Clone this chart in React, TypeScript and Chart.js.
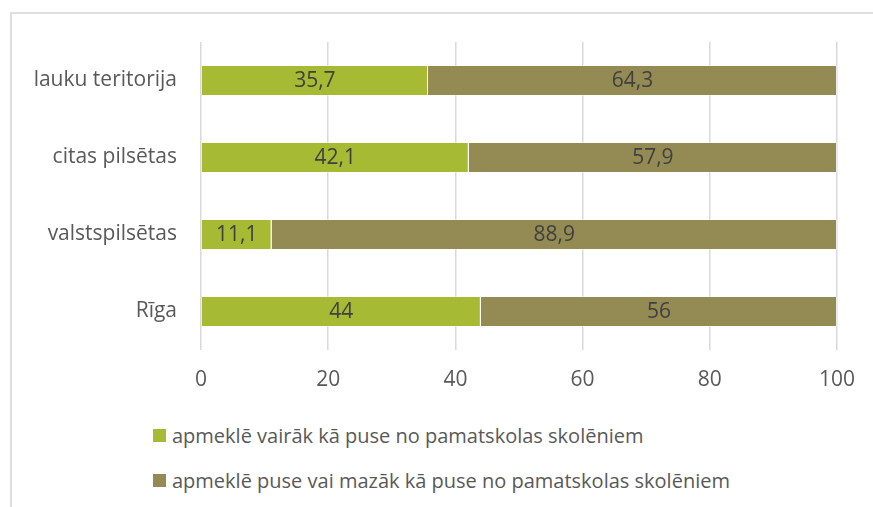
import React, { useEffect, useRef } from "react";
import { Chart, registerables } from "chart.js";

Chart.register(...registerables);

const categories = ["lauku teritorija", "citas pilsētas", "valstspilsētas", "Rīga"];
const seriesNames = [
  "apmeklē vairāk kā puse no pamatskolas skolēniem",
  "apmeklē puse vai mazāk kā puse no pamatskolas skolēniem",
];
const moreThanHalf = [35.7, 42.1, 11.1, 44];
const halfOrLess = [64.3, 57.9, 88.9, 56];
const seriesColors = ["#A6BB33", "#948A54"];
const xTicks = [0, 20, 40, 60, 80, 100];

const FONT = "'Open Sans', 'Noto Sans', sans-serif";

const labelPlugin = {
  id: "segLabels",
  afterDatasetsDraw(chart: any) {
    const ctx = chart.ctx;
    ctx.save();
    ctx.font = `21px ${FONT}`;
    ctx.fillStyle = "#404040";
    ctx.textAlign = "center";
    ctx.textBaseline = "middle";
    chart.data.datasets.forEach((ds: any, di: number) => {
      const meta = chart.getDatasetMeta(di);
      meta.data.forEach((el: any, i: number) => {
        const v = ds.data[i];
        const cx = (el.x + el.base) / 2;
        ctx.fillText(String(v).replace(".", ","), cx, el.y + 1);
      });
    });
    ctx.restore();
  },
};

export default function App() {
  const ref = useRef<HTMLCanvasElement | null>(null);

  useEffect(() => {
    if (!ref.current) return;
    const chart = new Chart(ref.current, {
      type: "bar",
      data: {
        labels: categories,
        datasets: [
          {
            label: seriesNames[0],
            data: moreThanHalf,
            backgroundColor: seriesColors[0],
            borderColor: "rgba(255,255,255,0.45)",
            borderWidth: 1,
            barPercentage: 0.4026,
            categoryPercentage: 1,
          },
          {
            label: seriesNames[1],
            data: halfOrLess,
            backgroundColor: seriesColors[1],
            borderColor: "rgba(255,255,255,0.45)",
            borderWidth: 1,
            barPercentage: 0.4026,
            categoryPercentage: 1,
          },
        ],
      },
      options: {
        indexAxis: "y",
        responsive: false,
        animation: false,
        layout: { padding: { top: 42, right: 36, left: 0, bottom: 0 } },
        plugins: {
          legend: { display: false },
          tooltip: { enabled: false },
        },
        scales: {
          y: {
            stacked: true,
            grid: { display: false, drawTicks: false },
            border: { display: false },
            ticks: {
              color: "#595959",
              font: { family: FONT, size: 21 },
              padding: 24,
            },
            afterFit: (scale: any) => {
              scale.width = 201;
            },
          },
          x: {
            stacked: true,
            min: 0,
            max: 100,
            afterBuildTicks: (scale: any) => {
              scale.ticks = xTicks.map((v) => ({ value: v }));
            },
            grid: { color: "#d9d9d9", lineWidth: 1.5, drawTicks: false },
            border: { display: false },
            ticks: {
              color: "#595959",
              font: { family: FONT, size: 21 },
              padding: 17,
            },
            afterFit: (scale: any) => {
              scale.height = 50;
            },
          },
        },
      },
      plugins: [labelPlugin],
    });
    return () => chart.destroy();
  }, []);

  const legendRow = (i: number, top: number) => (
    <div
      key={i}
      style={{
        position: "absolute",
        left: 153,
        top,
        height: 24,
        display: "flex",
        alignItems: "center",
        whiteSpace: "nowrap",
        fontFamily: FONT,
        fontSize: 20,
        color: "#595959",
      }}
    >
      <span
        style={{
          display: "inline-block",
          width: 13,
          height: 13,
          background: seriesColors[i],
          marginRight: 6,
        }}
      />
      <span>{seriesNames[i]}</span>
    </div>
  );

  return (
    <div
      style={{
        position: "fixed",
        left: 0,
        top: 0,
        width: 873,
        height: 507,
        background: "#fff",
        overflow: "hidden",
      }}
    >
      <div
        style={{
          position: "absolute",
          left: 10,
          top: 12,
          width: 900,
          height: 600,
          borderLeft: "2px solid #dedede",
          borderTop: "2px solid #dedede",
        }}
      />
      <canvas
        ref={ref}
        width={873}
        height={400}
        style={{ position: "absolute", left: 0, top: 0, width: 873, height: 400 }}
      />
      {legendRow(0, 423)}
      {legendRow(1, 468)}
    </div>
  );
}
